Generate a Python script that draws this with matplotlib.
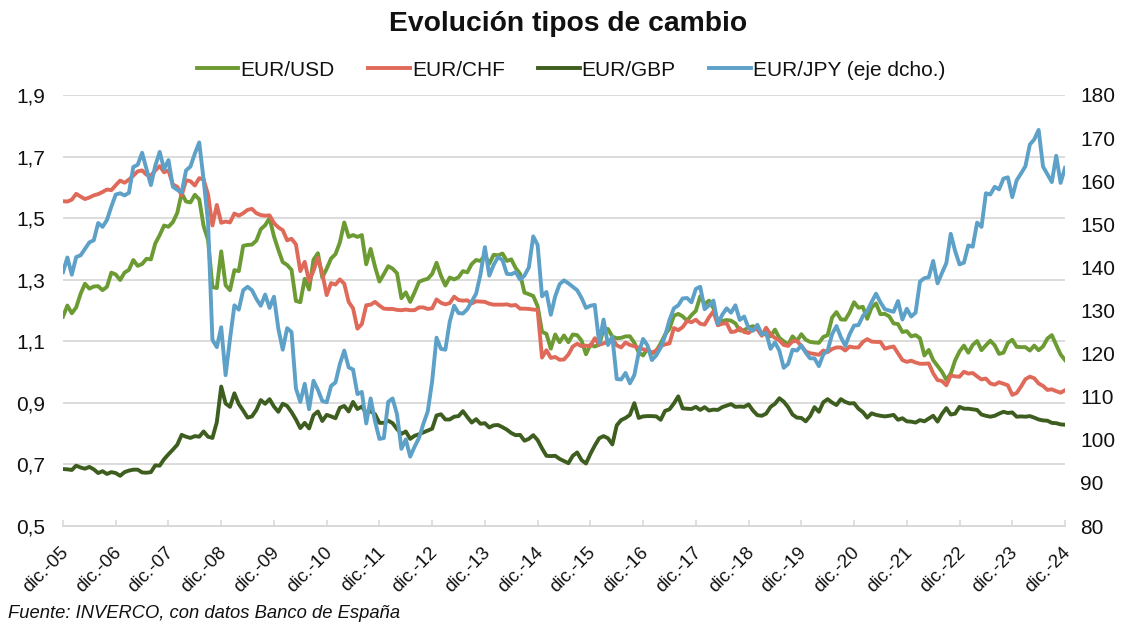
import numpy as np
import matplotlib
matplotlib.use("Agg")
import matplotlib.pyplot as plt
from matplotlib.ticker import FuncFormatter
from matplotlib.transforms import ScaledTranslation

plt.rcParams["font.family"] = ["Liberation Sans", "DejaVu Sans"]

# Month-end exchange rates, dic-05 .. dic-24 (one value per month)
eur_usd = [
    1.180,
    1.216, 1.191, 1.210, 1.254, 1.287, 1.271, 1.278, 1.279, 1.266, 1.277, 1.323, 1.317,
    1.299, 1.323, 1.332, 1.364, 1.345, 1.351, 1.368, 1.366, 1.418, 1.445, 1.476, 1.472,
    1.487, 1.517, 1.581, 1.554, 1.551, 1.576, 1.561, 1.474, 1.430, 1.276, 1.273, 1.392,
    1.282, 1.266, 1.331, 1.328, 1.410, 1.413, 1.414, 1.427, 1.464, 1.477, 1.500, 1.441,
    1.397, 1.357, 1.348, 1.332, 1.231, 1.227, 1.303, 1.268, 1.365, 1.386, 1.307, 1.336,
    1.369, 1.383, 1.421, 1.486, 1.439, 1.445, 1.439, 1.445, 1.350, 1.400, 1.342, 1.294,
    1.318, 1.344, 1.336, 1.321, 1.240, 1.259, 1.228, 1.259, 1.293, 1.299, 1.303, 1.319,
    1.355, 1.313, 1.281, 1.307, 1.301, 1.308, 1.328, 1.324, 1.351, 1.364, 1.361, 1.379,
    1.352, 1.381, 1.379, 1.385, 1.361, 1.366, 1.338, 1.319, 1.258, 1.253, 1.247, 1.214,
    1.131, 1.124, 1.076, 1.122, 1.097, 1.119, 1.097, 1.122, 1.120, 1.102, 1.058, 1.089,
    1.083, 1.089, 1.139, 1.140, 1.115, 1.110, 1.111, 1.116, 1.116, 1.095, 1.064, 1.054,
    1.076, 1.060, 1.069, 1.093, 1.122, 1.141, 1.183, 1.189, 1.181, 1.167, 1.185, 1.199,
    1.246, 1.221, 1.232, 1.208, 1.165, 1.166, 1.169, 1.167, 1.158, 1.135, 1.136, 1.145,
    1.149, 1.142, 1.124, 1.122, 1.116, 1.138, 1.111, 1.100, 1.089, 1.116, 1.101, 1.123,
    1.105, 1.098, 1.096, 1.095, 1.114, 1.120, 1.177, 1.195, 1.171, 1.170, 1.194, 1.227,
    1.209, 1.212, 1.173, 1.210, 1.223, 1.188, 1.189, 1.181, 1.158, 1.156, 1.130, 1.133,
    1.116, 1.120, 1.110, 1.054, 1.072, 1.039, 1.020, 1.001, 0.975, 0.995, 1.038, 1.067,
    1.086, 1.063, 1.088, 1.101, 1.071, 1.087, 1.102, 1.087, 1.059, 1.063, 1.095, 1.105,
    1.082, 1.081, 1.081, 1.070, 1.086, 1.071, 1.083, 1.109, 1.120, 1.088, 1.057, 1.039,
]

eur_chf = [
    1.555,
    1.554, 1.560, 1.579, 1.570, 1.562, 1.567, 1.574, 1.578, 1.585, 1.593, 1.591, 1.607,
    1.622, 1.615, 1.625, 1.638, 1.652, 1.655, 1.641, 1.638, 1.655, 1.669, 1.649, 1.655,
    1.609, 1.602, 1.574, 1.623, 1.620, 1.606, 1.630, 1.625, 1.577, 1.476, 1.543, 1.485,
    1.489, 1.486, 1.515, 1.508, 1.516, 1.527, 1.530, 1.516, 1.510, 1.508, 1.509, 1.484,
    1.470, 1.461, 1.428, 1.433, 1.415, 1.328, 1.358, 1.295, 1.329, 1.371, 1.321, 1.250,
    1.289, 1.284, 1.301, 1.287, 1.228, 1.207, 1.141, 1.156, 1.217, 1.219, 1.228, 1.216,
    1.206, 1.205, 1.205, 1.202, 1.201, 1.203, 1.201, 1.201, 1.210, 1.210, 1.205, 1.207,
    1.236, 1.225, 1.220, 1.224, 1.245, 1.234, 1.232, 1.233, 1.223, 1.230, 1.229, 1.228,
    1.222, 1.219, 1.219, 1.219, 1.220, 1.216, 1.218, 1.206, 1.206, 1.205, 1.203, 1.202,
    1.047, 1.071, 1.046, 1.049, 1.040, 1.041, 1.057, 1.083, 1.092, 1.084, 1.086, 1.084,
    1.110, 1.089, 1.093, 1.099, 1.108, 1.087, 1.080, 1.096, 1.088, 1.084, 1.079, 1.074,
    1.071, 1.063, 1.070, 1.084, 1.090, 1.093, 1.143, 1.136, 1.146, 1.166, 1.162, 1.170,
    1.157, 1.154, 1.178, 1.197, 1.152, 1.157, 1.159, 1.130, 1.132, 1.143, 1.130, 1.127,
    1.139, 1.139, 1.118, 1.144, 1.122, 1.111, 1.103, 1.088, 1.085, 1.100, 1.101, 1.085,
    1.067, 1.061, 1.059, 1.056, 1.070, 1.065, 1.075, 1.080, 1.080, 1.070, 1.083, 1.080,
    1.080, 1.098, 1.107, 1.099, 1.098, 1.098, 1.076, 1.080, 1.083, 1.061, 1.039, 1.033,
    1.037, 1.031, 1.027, 1.027, 1.028, 0.996, 0.974, 0.971, 0.957, 0.989, 0.986, 0.985,
    1.001, 0.995, 0.997, 0.986, 0.976, 0.979, 0.963, 0.959, 0.967, 0.962, 0.957, 0.926,
    0.932, 0.953, 0.977, 0.985, 0.980, 0.963, 0.955, 0.942, 0.944, 0.938, 0.933, 0.941,
]

eur_gbp = [
    0.685,
    0.684, 0.682, 0.696, 0.690, 0.686, 0.692, 0.684, 0.672, 0.678, 0.669, 0.675, 0.672,
    0.663, 0.675, 0.680, 0.683, 0.683, 0.674, 0.673, 0.675, 0.697, 0.696, 0.717, 0.733,
    0.748, 0.764, 0.796, 0.790, 0.786, 0.792, 0.790, 0.807, 0.790, 0.786, 0.837, 0.953,
    0.898, 0.887, 0.931, 0.896, 0.875, 0.852, 0.856, 0.877, 0.909, 0.897, 0.912, 0.888,
    0.871, 0.897, 0.890, 0.870, 0.846, 0.818, 0.835, 0.817, 0.860, 0.872, 0.841, 0.861,
    0.856, 0.850, 0.884, 0.890, 0.872, 0.903, 0.880, 0.888, 0.867, 0.873, 0.863, 0.835,
    0.835, 0.842, 0.834, 0.815, 0.799, 0.807, 0.783, 0.793, 0.798, 0.804, 0.810, 0.816,
    0.859, 0.863, 0.846, 0.846, 0.855, 0.857, 0.873, 0.854, 0.836, 0.847, 0.832, 0.834,
    0.820, 0.827, 0.828, 0.821, 0.813, 0.802, 0.795, 0.796, 0.777, 0.783, 0.795, 0.779,
    0.752, 0.728, 0.727, 0.728, 0.718, 0.711, 0.704, 0.728, 0.739, 0.714, 0.703, 0.734,
    0.761, 0.785, 0.792, 0.785, 0.765, 0.827, 0.844, 0.851, 0.861, 0.899, 0.851, 0.856,
    0.857, 0.857, 0.856, 0.845, 0.874, 0.879, 0.898, 0.921, 0.882, 0.881, 0.880, 0.887,
    0.877, 0.886, 0.875, 0.878, 0.877, 0.886, 0.891, 0.896, 0.887, 0.888, 0.887, 0.895,
    0.875, 0.860, 0.858, 0.865, 0.887, 0.897, 0.915, 0.904, 0.886, 0.862, 0.852, 0.851,
    0.840, 0.857, 0.886, 0.871, 0.902, 0.912, 0.901, 0.893, 0.912, 0.903, 0.898, 0.899,
    0.881, 0.870, 0.852, 0.866, 0.861, 0.858, 0.856, 0.858, 0.861, 0.845, 0.850, 0.840,
    0.839, 0.836, 0.844, 0.840, 0.849, 0.858, 0.839, 0.864, 0.883, 0.862, 0.865, 0.887,
    0.881, 0.881, 0.879, 0.877, 0.862, 0.858, 0.855, 0.858, 0.865, 0.871, 0.867, 0.869,
    0.855, 0.856, 0.855, 0.857, 0.852, 0.846, 0.843, 0.842, 0.835, 0.834, 0.830, 0.829,
]

eur_jpy = [
    138.9,
    142.3, 138.3, 142.4, 142.8, 144.3, 145.8, 146.3, 150.3, 149.4, 151.0, 154.1, 156.9,
    157.2, 156.7, 157.3, 163.3, 163.8, 166.6, 162.8, 159.1, 163.6, 166.8, 162.8, 164.9,
    158.7, 158.0, 157.4, 162.5, 163.4, 166.4, 169.0, 160.3, 150.5, 123.2, 121.5, 126.1,
    115.0, 123.4, 131.2, 130.2, 134.7, 135.5, 134.7, 132.7, 131.1, 133.7, 130.6, 133.2,
    125.8, 120.9, 125.9, 125.0, 111.9, 108.8, 113.0, 107.1, 113.7, 111.6, 109.0, 108.7,
    112.5, 113.3, 117.6, 120.7, 116.8, 116.3, 110.6, 111.1, 103.8, 109.6, 104.3, 100.2,
    100.4, 108.8, 109.6, 105.9, 97.9, 100.1, 96.1, 98.4, 100.4, 103.7, 106.6, 113.6,
    123.7, 121.1, 120.9, 127.4, 131.1, 129.4, 129.3, 130.3, 132.1, 133.9, 138.4, 144.7,
    138.1, 140.6, 142.4, 141.7, 138.5, 138.4, 138.9, 137.2, 138.1, 140.0, 147.2, 145.2,
    133.3, 134.3, 129.0, 133.3, 136.1, 137.0, 136.3, 135.5, 134.7, 132.9, 130.6, 131.1,
    131.3, 122.5, 127.9, 122.0, 123.9, 114.1, 114.0, 115.5, 113.1, 115.0, 120.2, 123.4,
    121.9, 118.5, 119.6, 121.4, 124.1, 127.8, 130.5, 131.2, 132.8, 132.9, 131.9, 135.0,
    135.5, 130.3, 131.2, 132.3, 126.9, 129.0, 130.5, 129.5, 131.2, 127.8, 128.6, 125.9,
    125.3, 126.7, 124.5, 124.8, 121.1, 122.6, 120.7, 116.7, 117.6, 120.9, 120.7, 121.9,
    120.2, 118.9, 118.9, 117.1, 119.8, 120.7, 124.5, 126.4, 123.8, 121.8, 124.5, 126.5,
    126.6, 128.7, 129.9, 132.0, 133.9, 131.9, 130.3, 130.0, 129.7, 132.2, 127.9, 130.4,
    128.6, 129.5, 136.7, 137.5, 137.7, 141.5, 136.3, 138.7, 141.0, 147.8, 143.8, 140.7,
    141.1, 145.1, 144.8, 150.4, 149.4, 157.2, 156.9, 158.7, 158.1, 160.6, 160.9, 156.3,
    160.2, 161.8, 163.5, 168.5, 169.7, 171.9, 163.4, 161.6, 159.8, 165.9, 159.6, 163.1,
]

tick_labels = [f"dic.-{y:02d}" for y in range(5, 25)]

c_usd = "#6b9b32"
c_chf = "#e06a5a"
c_gbp = "#3e5e20"
c_jpy = "#5da0c8"
grid_c = "#d9d9d9"
txt_c = "#111111"

months = np.arange(len(eur_usd))

fig = plt.figure(figsize=(11.33, 6.27), dpi=100)
ax = fig.add_axes([63 / 1133, 1 - 526 / 627, (1065 - 63) / 1133, (526 - 95) / 627])
ax2 = ax.twinx()

lw = 2.8
l1, = ax.plot(months, eur_usd, color=c_usd, lw=lw, label="EUR/USD")
l2, = ax.plot(months, eur_chf, color=c_chf, lw=lw, label="EUR/CHF")
l3, = ax.plot(months, eur_gbp, color=c_gbp, lw=lw, label="EUR/GBP")
l4, = ax2.plot(months, eur_jpy, color=c_jpy, lw=lw, label="EUR/JPY (eje dcho.)")

ax.set_xlim(0, len(months) - 1)
ax.set_ylim(0.5, 1.9)
ax2.set_ylim(80, 180)
ax.set_yticks(np.arange(0.5, 1.91, 0.2))
ax2.set_yticks(np.arange(80, 181, 10))
ax.yaxis.set_major_formatter(FuncFormatter(lambda v, p: f"{v:.1f}".replace(".", ",")))

ax.grid(axis="y", color=grid_c, lw=1.3)
ax.set_axisbelow(True)
for a in (ax, ax2):
    for s in ("top", "left", "right"):
        a.spines[s].set_visible(False)
    a.spines["bottom"].set_color(grid_c)
    a.spines["bottom"].set_linewidth(1.3)

ax.set_xticks(months[::12])
ax.set_xticklabels(tick_labels, rotation=45, ha="right", va="center",
                   rotation_mode="anchor", fontsize=13.5, color=txt_c)
ax.tick_params(axis="x", direction="in", length=4, width=1.2, color=grid_c, pad=17)
ax.tick_params(axis="y", length=0, labelsize=15, pad=13, labelcolor=txt_c)
ax2.tick_params(axis="y", length=0, labelsize=15, pad=11, labelcolor=txt_c)
for lab in ax.get_xticklabels():
    lab.set_transform(lab.get_transform() + ScaledTranslation(3 / 100, 0, fig.dpi_scale_trans))

fig.text(0.501, 1 - 31 / 627, "Evolución tipos de cambio", ha="center", va="baseline",
         fontsize=20.3, fontweight="bold", color=txt_c)

fig.legend(handles=[l1, l2, l3, l4], loc="center", bbox_to_anchor=(571 / 1133, 1 - 70 / 627),
           ncol=4, frameon=False, fontsize=15, handlelength=2.0, handletextpad=0.1,
           columnspacing=1.6, labelcolor=txt_c)

fig.text(8 / 1133, 1 - 618 / 627, "Fuente: INVERCO, con datos Banco de España",
         fontsize=13.2, style="italic", va="baseline", color=txt_c)

fig.savefig("out.png", dpi=100)
